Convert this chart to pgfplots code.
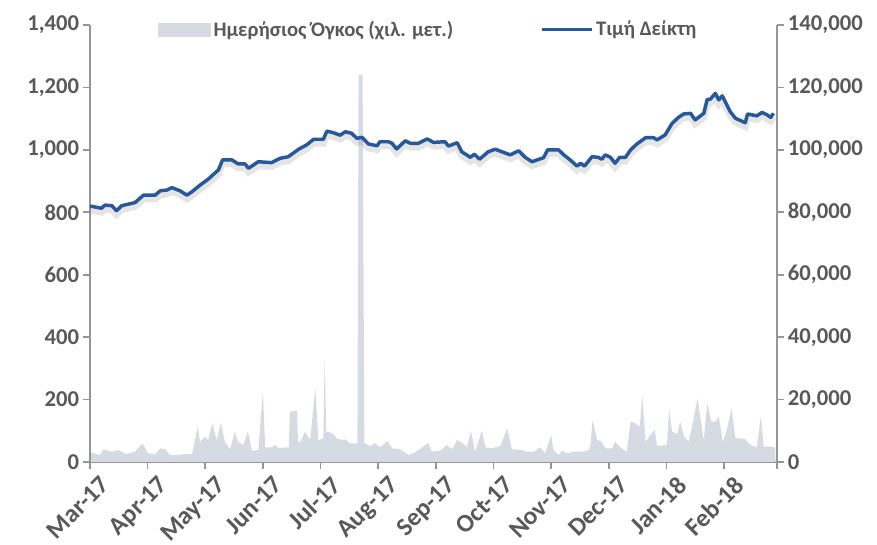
\documentclass[border=0pt]{standalone}
\usepackage{fontspec}
\setmainfont{Carlito}
\usepackage{pgfplots}
\usepackage{pgfplotstable}
\pgfplotsset{compat=1.18}
\definecolor{areagray}{RGB}{214,219,227}
\definecolor{lineblue}{RGB}{38,88,155}
\definecolor{txtgray}{RGB}{89,89,89}
\definecolor{axgray}{RGB}{150,150,150}

% x = months since 1 Mar 2017
\pgfplotstableread{
m vol
0.00 3000
0.03 2980
0.17 2240
0.23 4070
0.38 3300
0.49 3840
0.64 2560
0.78 3300
0.91 5990
1.01 2790
1.13 2470
1.22 4390
1.30 4070
1.39 2240
1.53 2240
1.65 2560
1.77 2560
1.87 11310
1.91 6500
2.00 8100
2.05 7050
2.12 12400
2.20 7050
2.27 12600
2.34 6500
2.43 4070
2.51 9700
2.57 6500
2.66 5450
2.74 9930
2.81 3620
2.92 3840
3.00 22530
3.04 4710
3.15 4710
3.21 5450
3.27 4390
3.39 4710
3.45 4710
3.47 16100
3.59 16440
3.61 6500
3.65 6500
3.73 9700
3.82 7050
3.91 23600
3.96 7050
4.05 7500
4.07 33000
4.10 9700
4.14 9700
4.22 8970
4.28 7590
4.37 7050
4.43 7270
4.51 5990
4.64 6000
4.66 124000
4.73 124000
4.76 6000
4.77 5990
4.86 5130
4.95 5990
5.03 4710
5.16 6730
5.24 4390
5.38 4070
5.53 2240
5.61 2790
5.70 3840
5.87 6180
5.93 3300
6.08 3620
6.19 5450
6.28 4070
6.37 7050
6.45 6180
6.54 4710
6.61 10030
6.68 3300
6.80 10030
6.86 4710
6.97 4390
7.12 5130
7.24 10800
7.32 4070
7.47 3840
7.58 3300
7.70 3300
7.81 4710
7.90 2790
8.00 8650
8.04 3840
8.13 2240
8.19 3620
8.28 2790
8.39 3300
8.56 3300
8.65 3840
8.68 5000
8.72 13460
8.80 7050
8.88 6500
8.94 4390
9.06 4390
9.11 6500
9.20 4710
9.31 3300
9.38 12910
9.46 12400
9.54 11310
9.58 21470
9.64 6500
9.72 8650
9.80 10250
9.84 5130
10.01 5450
10.05 17200
10.10 9700
10.19 8970
10.24 12910
10.31 8100
10.39 6500
10.47 13680
10.54 20400
10.65 7050
10.71 18800
10.78 12910
10.85 12910
10.91 14520
10.98 6500
11.05 10250
11.13 17200
11.20 7590
11.28 7590
11.37 7270
11.46 5450
11.57 4710
11.64 14740
11.69 4910
11.81 4910
11.86 4700
11.89 4700
}\voltable

\pgfplotstableread{
m idx
0.00 820
0.20 813
0.26 823
0.38 821
0.46 805
0.55 821
0.78 831
0.93 855
1.13 855
1.22 869
1.33 871
1.42 879
1.56 869
1.68 855
1.77 866
1.91 887
2.05 906
2.23 936
2.30 968
2.46 968
2.57 955
2.69 955
2.75 941
2.92 962
3.15 959
3.30 973
3.44 978
3.62 1002
3.76 1016
3.88 1034
4.05 1034
4.11 1060
4.22 1055
4.34 1047
4.43 1058
4.54 1053
4.63 1037
4.72 1040
4.83 1019
4.98 1013
5.03 1026
5.18 1026
5.24 1021
5.32 1003
5.47 1029
5.56 1021
5.70 1021
5.85 1035
5.96 1024
6.16 1026
6.22 1012
6.37 1023
6.45 994
6.60 976
6.67 986
6.76 970
6.91 994
7.03 1002
7.29 984
7.44 997
7.55 976
7.67 962
7.87 975
7.94 1000
8.13 1000
8.22 984
8.33 968
8.45 948
8.51 957
8.58 948
8.71 978
8.82 976
8.88 970
8.94 984
9.03 976
9.11 957
9.19 976
9.29 976
9.38 1000
9.49 1019
9.64 1039
9.78 1039
9.84 1032
9.98 1048
10.10 1085
10.21 1104
10.30 1115
10.42 1117
10.50 1096
10.65 1117
10.71 1162
10.76 1162
10.85 1181
10.91 1160
10.97 1173
11.11 1122
11.20 1101
11.37 1087
11.41 1115
11.57 1109
11.66 1120
11.75 1112
11.81 1104
11.86 1117
}\idxtable

\pgfplotsset{
  common/.style={
    width=515.25pt, height=327.75pt, scale only axis,
    xmin=0, xmax=11.92,
    ymin=0,
    tick align=outside,
    major tick length=5pt,
    every tick/.style={axgray, line width=1.2pt},
    axis line style={axgray, line width=1.5pt},
    ticklabel style={font=\fontsize{17}{20}\selectfont\bfseries, text=txtgray},
    scaled y ticks=false,
    scaled x ticks=false,
    clip=false,
  }
}

\begin{document}
\begin{tikzpicture}
% volume (right axis)
\begin{axis}[common,
  ymax=140000,
  axis y line*=right,
  axis x line*=bottom,
  ytick={0,20000,40000,60000,80000,100000,120000,140000},
  yticklabels={0,{20,000},{40,000},{60,000},{80,000},{100,000},{120,000},{140,000}},
  xtick={0,1,2,3,4,5,6,7,8,9,10,11,11.92},
  xticklabels={Mar-17,Apr-17,May-17,Jun-17,Jul-17,Aug-17,Sep-17,Oct-17,Nov-17,Dec-17,Jan-18,Feb-18,{}},
  xticklabel style={font=\fontsize{19}{22}\selectfont\bfseries, rotate=45, anchor=north east, inner sep=1pt, xshift=3pt, yshift=-7pt},
  yticklabel style={inner sep=3pt},
]
\addplot[fill=areagray, draw=none] table[x=m, y=vol] {\voltable} \closedcycle;
\end{axis}
% index (left axis)
\begin{axis}[common,
  ymax=1400,
  axis y line*=left,
  axis x line=none,
  xtick=\empty,
  ytick={0,200,400,600,800,1000,1200,1400},
  yticklabels={0,200,400,600,800,{1,000},{1,200},{1,400}},
  yticklabel style={inner sep=3pt},
  legend columns=2,
  legend style={draw=none, fill=none, at={(0.493,0.99)}, anchor=center,
    font=\fontsize{15.5}{18}\selectfont\bfseries, text=txtgray,
    /tikz/every even column/.append style={column sep=63pt}},
]
\addlegendimage{legend image code/.code={\fill[areagray] (0pt,-4.9pt) rectangle (39pt,4.9pt);}}
\addlegendentry{Ημερήσιος Όγκος (χιλ. μετ.)}
\addplot[black, opacity=0.10, line width=5pt, yshift=-3pt, forget plot] table[x=m, y=idx] {\idxtable};
\addplot[lineblue, line width=2.6pt, line join=round,
  legend image code/.code={\draw[lineblue, line width=2.6pt] (0pt,0pt) -- (37.5pt,0pt);}]
  table[x=m, y=idx] {\idxtable};
\addlegendentry{Τιμή Δείκτη}
\end{axis}
\pgfresetboundingbox
\path (-67.5pt,-62.25pt) rectangle (590.25pt,346.5pt);
\end{tikzpicture}
\end{document}
